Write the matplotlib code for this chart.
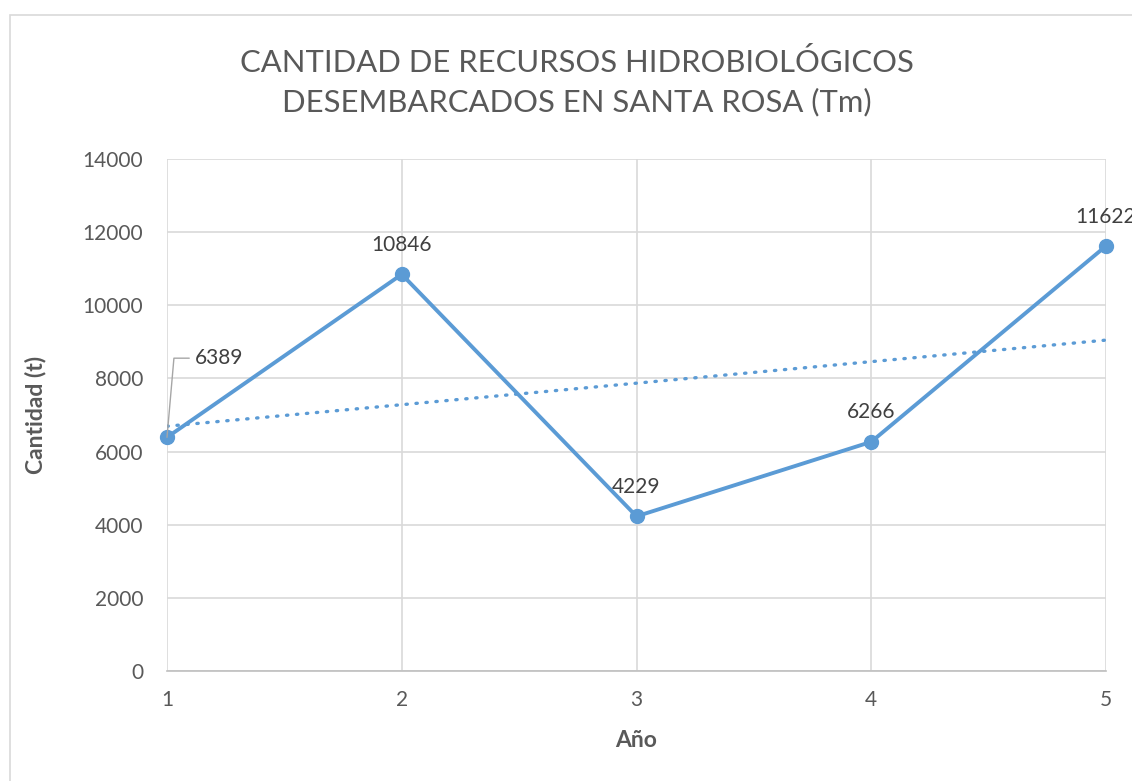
import numpy as np
import matplotlib
matplotlib.use("Agg")
import matplotlib.pyplot as plt
from matplotlib.patches import Rectangle

plt.rcParams['font.family'] = ['Lato', 'DejaVu Sans']

years = [1, 2, 3, 4, 5]
cantidad = [6389, 10846, 4229, 6266, 11622]
title = "CANTIDAD DE RECURSOS HIDROBIOLÓGICOS\nDESEMBARCADOS EN SANTA ROSA (Tm)"
xlabel = "Año"
ylabel = "Cantidad (t)"
yticks = [0, 2000, 4000, 6000, 8000, 10000, 12000, 14000]

W, H = 1132, 781
fig = plt.figure(figsize=(W / 100, H / 100), dpi=100)
fig.patch.set_facecolor('white')

# chart border
fig.patches.append(Rectangle((9.5 / W, -0.1), 1.2, (H - 14.5) / H + 0.1,
                             transform=fig.transFigure, fill=False,
                             edgecolor='#D9D9D9', linewidth=1.2))

ax = fig.add_axes([167 / W, (H - 671) / H, (1106 - 167) / W, (671 - 159) / H])
blue = '#5B9BD5'
grey_text = '#595959'
grid = '#D9D9D9'

ax.set_xlim(1, 5)
ax.set_ylim(0, 14000)
ax.set_yticks(yticks)
ax.set_xticks(years)
ax.grid(True, color=grid, linewidth=1.2)
ax.set_axisbelow(True)
for s in ['top', 'right', 'left']:
    ax.spines[s].set_visible(False)
ax.spines['bottom'].set_color('#BFBFBF')
ax.spines['bottom'].set_linewidth(1.2)
ax.tick_params(length=0, labelsize=15, labelcolor=grey_text)
ax.tick_params(axis='x', pad=14)
ax.tick_params(axis='y', pad=17)

# trendline (linear fit)
coef = np.polyfit(years, cantidad, 1)
xt = np.array([years[0], years[-1]])
ax.plot(xt, np.polyval(coef, xt), color=blue, linewidth=2.4,
        linestyle=(0, (0.4, 2.6)), dash_capstyle='round', zorder=2)

ax.plot(years, cantidad, color=blue, linewidth=2.8, marker='o',
        markersize=10, zorder=3, clip_on=False)

# data labels
for i, (x, y) in enumerate(zip(years, cantidad)):
    if i == 0:
        continue
    ax.annotate(str(y), (x, y), xytext=(0, 14), textcoords='offset points',
                ha='center', va='bottom', fontsize=15, color='#404040',
                annotation_clip=False)
# first label with leader line
ax.annotate(str(cantidad[0]), (years[0], cantidad[0]), xytext=(20, 57),
            textcoords='offset points', ha='left', va='center', fontsize=15,
            color='#404040',
            arrowprops=dict(arrowstyle='-', color='#A6A6A6', lw=1,
                            connectionstyle='angle,angleA=0,angleB=85,rad=0',
                            shrinkA=2, shrinkB=0))

ax.set_xlabel(xlabel, fontsize=16.5, fontweight='bold', color=grey_text, labelpad=14)
ax.set_ylabel(ylabel, fontsize=16.5, fontweight='bold', color=grey_text, labelpad=26)

fig.text(577 / W, 1 - 82 / H, title, ha='center', va='center', fontsize=22.3,
         color=grey_text, linespacing=1.45)

fig.savefig('out.png', dpi=100)
